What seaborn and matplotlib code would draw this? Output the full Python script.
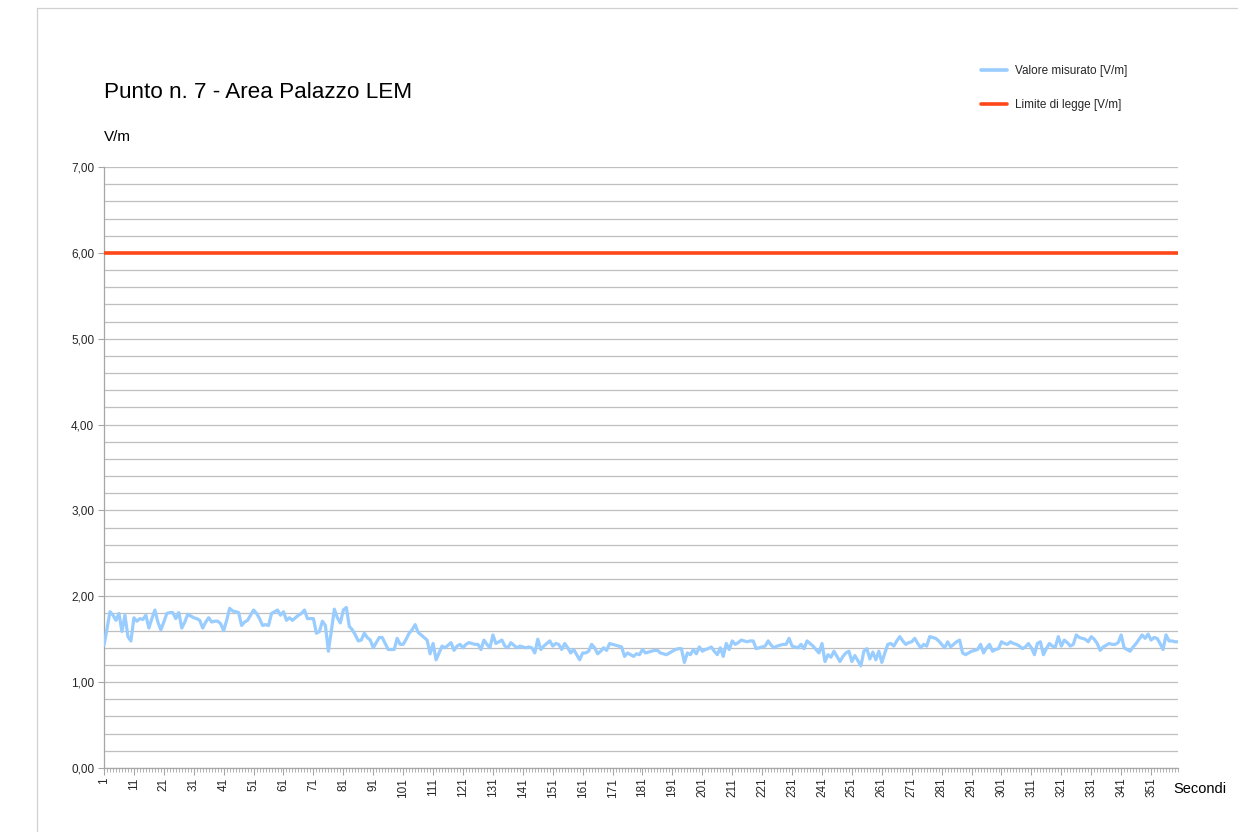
import numpy as np
import pandas as pd
import matplotlib
matplotlib.use("Agg")
import matplotlib.pyplot as plt
from matplotlib.lines import Line2D
from matplotlib.ticker import MultipleLocator, FuncFormatter
import seaborn as sns

title = "Punto n. 7 - Area Palazzo LEM"
y_label = "V/m"
x_label = "Secondi"
series_measured = "Valore misurato [V/m]"
series_limit = "Limite di legge [V/m]"
limit_value = 6.0

measured = [
    1.43, 1.62, 1.82, 1.78, 1.72, 1.80, 1.59, 1.78, 1.53, 1.48,
    1.75, 1.71, 1.74, 1.73, 1.78, 1.63, 1.74, 1.84, 1.70, 1.61,
    1.70, 1.80, 1.81, 1.81, 1.74, 1.81, 1.63, 1.70, 1.79, 1.77,
    1.75, 1.74, 1.72, 1.63, 1.70, 1.75, 1.70, 1.71, 1.71, 1.68,
    1.60, 1.72, 1.86, 1.83, 1.82, 1.81, 1.66, 1.70, 1.72, 1.78,
    1.84, 1.80, 1.74, 1.66, 1.67, 1.66, 1.80, 1.82, 1.84, 1.78,
    1.82, 1.72, 1.75, 1.72, 1.75, 1.78, 1.80, 1.84, 1.74, 1.74,
    1.74, 1.57, 1.59, 1.71, 1.66, 1.36, 1.60, 1.85, 1.75, 1.69,
    1.84, 1.87, 1.65, 1.61, 1.55, 1.48, 1.49, 1.57, 1.52, 1.49,
    1.40, 1.46, 1.52, 1.52, 1.45, 1.38, 1.38, 1.38, 1.51, 1.44,
    1.44, 1.50, 1.57, 1.61, 1.67, 1.58, 1.55, 1.52, 1.49, 1.33,
    1.45, 1.26, 1.34, 1.42, 1.40, 1.43, 1.46, 1.37, 1.42, 1.44,
    1.40, 1.44, 1.46, 1.45, 1.44, 1.44, 1.38, 1.49, 1.44, 1.40,
    1.55, 1.45, 1.47, 1.49, 1.42, 1.40, 1.46, 1.43, 1.40, 1.42,
    1.41, 1.40, 1.41, 1.40, 1.34, 1.50, 1.38, 1.42, 1.45, 1.48,
    1.42, 1.45, 1.44, 1.38, 1.45, 1.40, 1.34, 1.38, 1.32, 1.26,
    1.34, 1.34, 1.36, 1.44, 1.40, 1.33, 1.36, 1.40, 1.37, 1.45,
    1.44, 1.43, 1.42, 1.41, 1.30, 1.34, 1.32, 1.30, 1.33, 1.32,
    1.38, 1.34, 1.35, 1.36, 1.37, 1.37, 1.34, 1.33, 1.32, 1.34,
    1.36, 1.38, 1.39, 1.39, 1.23, 1.34, 1.32, 1.38, 1.33, 1.41,
    1.36, 1.38, 1.39, 1.41, 1.36, 1.32, 1.40, 1.30, 1.45, 1.38,
    1.48, 1.44, 1.46, 1.49, 1.48, 1.47, 1.48, 1.48, 1.39, 1.40,
    1.41, 1.42, 1.48, 1.43, 1.40, 1.42, 1.43, 1.44, 1.44, 1.51,
    1.42, 1.41, 1.40, 1.44, 1.39, 1.48, 1.45, 1.42, 1.38, 1.34,
    1.45, 1.24, 1.32, 1.29, 1.36, 1.30, 1.24, 1.30, 1.34, 1.36,
    1.24, 1.31, 1.25, 1.19, 1.36, 1.39, 1.27, 1.35, 1.26, 1.36,
    1.23, 1.34, 1.44, 1.45, 1.42, 1.48, 1.53, 1.48, 1.44, 1.46,
    1.47, 1.51, 1.45, 1.40, 1.44, 1.42, 1.53, 1.52, 1.51, 1.48,
    1.44, 1.40, 1.47, 1.41, 1.44, 1.47, 1.49, 1.34, 1.32, 1.34,
    1.36, 1.37, 1.38, 1.44, 1.34, 1.40, 1.44, 1.36, 1.38, 1.39,
    1.47, 1.45, 1.44, 1.47, 1.45, 1.44, 1.42, 1.39, 1.41, 1.45,
    1.40, 1.32, 1.45, 1.47, 1.32, 1.39, 1.45, 1.42, 1.41, 1.53,
    1.42, 1.49, 1.46, 1.42, 1.44, 1.55, 1.52, 1.51, 1.50, 1.47,
    1.53, 1.50, 1.45, 1.37, 1.41, 1.43, 1.45, 1.44, 1.44, 1.46,
    1.55, 1.40, 1.38, 1.36, 1.41, 1.45, 1.50, 1.55, 1.51, 1.56,
    1.49, 1.52, 1.51, 1.45, 1.38, 1.55, 1.48, 1.48, 1.47, 1.47,
]
seconds = list(range(1, len(measured) + 1))
limit = [limit_value] * len(measured)

blue = "#99CCFF"
red = "#FF4719"
grid_color = "#BFBFBF"
axis_color = "#A6A6A6"

sns.set_theme(style="white")
plt.rcParams['font.family'] = ['Liberation Sans', 'DejaVu Sans']

fig = plt.figure(figsize=(12.38, 8.32), dpi=100)
W, H = 1238, 832
ax = fig.add_axes([104 / W, 1 - 768 / H, (1178 - 104) / W, (768 - 167) / H])

df = pd.DataFrame({"sec": seconds, "val": measured, "lim": limit})
sns.lineplot(data=df, x="sec", y="val", ax=ax, color=blue, linewidth=2.3, zorder=3)
sns.lineplot(data=df, x="sec", y="lim", ax=ax, color=red, linewidth=2.6, zorder=3)

ax.set_xlim(1, len(measured))
ax.set_ylim(0, 7)
ax.yaxis.set_major_locator(MultipleLocator(1))
ax.yaxis.set_minor_locator(MultipleLocator(0.2))
ax.yaxis.set_major_formatter(FuncFormatter(lambda v, p: f"{v:.2f}".replace(".", ",")))
ax.grid(which="both", axis="y", color=grid_color, linewidth=0.9, zorder=0)
ax.set_axisbelow(True)

ax.set_xticks(seconds[::10])
ax.set_xticklabels([str(s) for s in seconds[::10]], rotation=90)
ax.xaxis.set_minor_locator(MultipleLocator(1))
ax.tick_params(axis="x", which="major", length=5, width=0.8, color=axis_color,
               labelsize=8.5, pad=2, direction="out", bottom=True)
ax.tick_params(axis="x", which="minor", length=3, width=0.6, color=axis_color,
               direction="out", bottom=True)
ax.tick_params(axis="y", which="major", length=4, width=0.8, color=axis_color,
               labelsize=8.5, pad=3, left=True)
ax.tick_params(axis="y", which="minor", length=0)
for s in ["top", "right"]:
    ax.spines[s].set_visible(False)
for s in ["left", "bottom"]:
    ax.spines[s].set_color(axis_color)
    ax.spines[s].set_linewidth(0.9)
ax.set_xlabel("")
ax.set_ylabel("")

fig.text(104 / W, 1 - 92 / H, title, fontsize=16.2, ha="left", va="center", color="#000000")
fig.text(104 / W, 1 - 137 / H, y_label, fontsize=11, ha="left", va="center", color="#000000")
fig.text(1200 / W, 1 - 789 / H, x_label, fontsize=10.5, ha="center", va="center", color="#000000")

handles = [Line2D([0], [0], color=blue, linewidth=2.6),
           Line2D([0], [0], color=red, linewidth=2.6)]
fig.legend(handles, [series_measured, series_limit], loc="upper left",
           bbox_to_anchor=(976 / W, 1 - 60 / H), frameon=False, fontsize=8.5,
           handlelength=2.2, labelspacing=1.9, handletextpad=0.7, borderaxespad=0)

# outer chart-area border
fig.add_artist(Line2D([37 / W, 1.0], [1 - 8 / H, 1 - 8 / H], color="#D0D0D0", linewidth=0.9,
                      transform=fig.transFigure))
fig.add_artist(Line2D([37 / W, 37 / W], [1 - 8 / H, 0.0], color="#D0D0D0", linewidth=0.9,
                      transform=fig.transFigure))

fig.savefig("out.png", dpi=100)
